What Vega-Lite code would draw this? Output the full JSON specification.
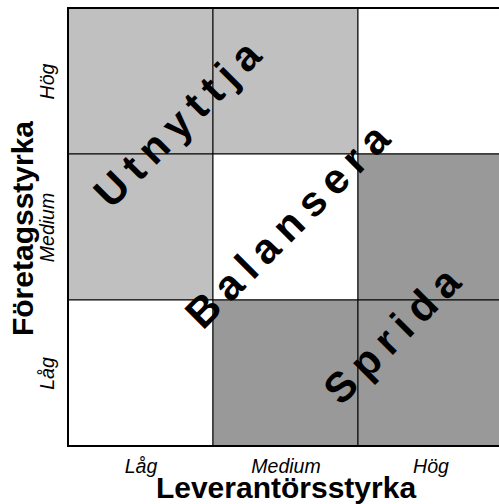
{
  "$schema": "https://vega.github.io/schema/vega-lite/v6.json",
  "width": 435,
  "height": 438,
  "autosize": "none",
  "padding": {"left": 68, "top": 8, "right": 0, "bottom": 58},
  "background": "white",
  "config": {"view": {"stroke": null}, "font": "Liberation Sans"},
  "layer": [
    {
      "data": {
        "values": [
          {"leverantor": "Låg", "foretag": "Hög", "zone": "light", "x0": 0, "x1": 1, "y0": 2, "y1": 3},
          {"leverantor": "Medium", "foretag": "Hög", "zone": "light", "x0": 1, "x1": 2, "y0": 2, "y1": 3},
          {"leverantor": "Hög", "foretag": "Hög", "zone": "white", "x0": 2, "x1": 3, "y0": 2, "y1": 3},
          {"leverantor": "Låg", "foretag": "Medium", "zone": "light", "x0": 0, "x1": 1, "y0": 1, "y1": 2},
          {"leverantor": "Medium", "foretag": "Medium", "zone": "white", "x0": 1, "x1": 2, "y0": 1, "y1": 2},
          {"leverantor": "Hög", "foretag": "Medium", "zone": "dark", "x0": 2, "x1": 3, "y0": 1, "y1": 2},
          {"leverantor": "Låg", "foretag": "Låg", "zone": "white", "x0": 0, "x1": 1, "y0": 0, "y1": 1},
          {"leverantor": "Medium", "foretag": "Låg", "zone": "dark", "x0": 1, "x1": 2, "y0": 0, "y1": 1},
          {"leverantor": "Hög", "foretag": "Låg", "zone": "dark", "x0": 2, "x1": 3, "y0": 0, "y1": 1}
        ]
      },
      "mark": {"type": "rect", "stroke": "black", "strokeWidth": 1},
      "encoding": {
        "x": {
          "field": "x0", "type": "quantitative",
          "scale": {"domain": [0, 3], "nice": false, "zero": false},
          "axis": {
            "values": [0.5, 1.5, 2.5],
            "labelExpr": "datum.value == 0.5 ? 'Låg' : datum.value == 1.5 ? 'Medium' : 'Hög'",
            "grid": false, "ticks": false, "domain": false,
            "labelFont": "Liberation Sans", "labelFontStyle": "italic", "labelFontSize": 19.5,
            "labelColor": "black", "labelPadding": 26, "labelBaseline": "alphabetic",
            "title": "Leverantörsstyrka", "titleFont": "Liberation Sans",
            "titleFontSize": 30, "titleFontWeight": "bold", "titleColor": "black",
            "titleY": 51, "titleBaseline": "alphabetic"
          }
        },
        "x2": {"field": "x1"},
        "y": {
          "field": "y0", "type": "quantitative",
          "scale": {"domain": [0, 3], "nice": false, "zero": false},
          "axis": {
            "values": [0.5, 1.5, 2.5],
            "labelExpr": "datum.value == 0.5 ? 'Låg' : datum.value == 1.5 ? 'Medium' : 'Hög'",
            "grid": false, "ticks": false, "domain": false,
            "labelFont": "Liberation Sans", "labelFontStyle": "italic", "labelFontSize": 19.5,
            "labelColor": "black", "labelPadding": 15, "labelAngle": 270,
            "labelAlign": "center", "labelBaseline": "alphabetic",
            "title": "Företagsstyrka", "titleFont": "Liberation Sans",
            "titleFontSize": 30, "titleFontWeight": "bold", "titleColor": "black",
            "titleX": -36, "titleY": 220, "titleAngle": 270,
            "titleAlign": "center", "titleBaseline": "alphabetic"
          }
        },
        "y2": {"field": "y1"},
        "color": {
          "field": "zone", "type": "nominal",
          "scale": {"domain": ["light", "white", "dark"], "range": ["#c0c0c0", "#ffffff", "#999999"]},
          "legend": null
        }
      }
    },
    {
      "data": {"values": [{"x0": 0, "x1": 3, "y0": 0, "y1": 3}]},
      "mark": {"type": "rect", "fill": null, "stroke": "black", "strokeWidth": 2},
      "encoding": {
        "x": {"field": "x0", "type": "quantitative"},
        "x2": {"field": "x1"},
        "y": {"field": "y0", "type": "quantitative"},
        "y2": {"field": "y1"}
      }
    },
    {
      "data": {
        "values": [
          {"label": "U\u2009t\u2009n\u2009y\u2009t\u2009t\u2009j\u2009a", "x": 0.76, "y": 2.2},
          {"label": "B\u2009a\u2009l\u2009a\u2009n\u2009s\u2009e\u2009r\u2009a", "x": 1.52, "y": 1.5},
          {"label": "S\u2009p\u2009r\u2009i\u2009d\u2009a", "x": 2.24, "y": 0.75}
        ]
      },
      "mark": {
        "type": "text", "angle": 315, "font": "Liberation Sans", "fontSize": 42,
        "fontWeight": "bold", "color": "black", "align": "center", "baseline": "middle"
      },
      "encoding": {
        "x": {"field": "x", "type": "quantitative"},
        "y": {"field": "y", "type": "quantitative"},
        "text": {"field": "label"}
      }
    }
  ]
}
